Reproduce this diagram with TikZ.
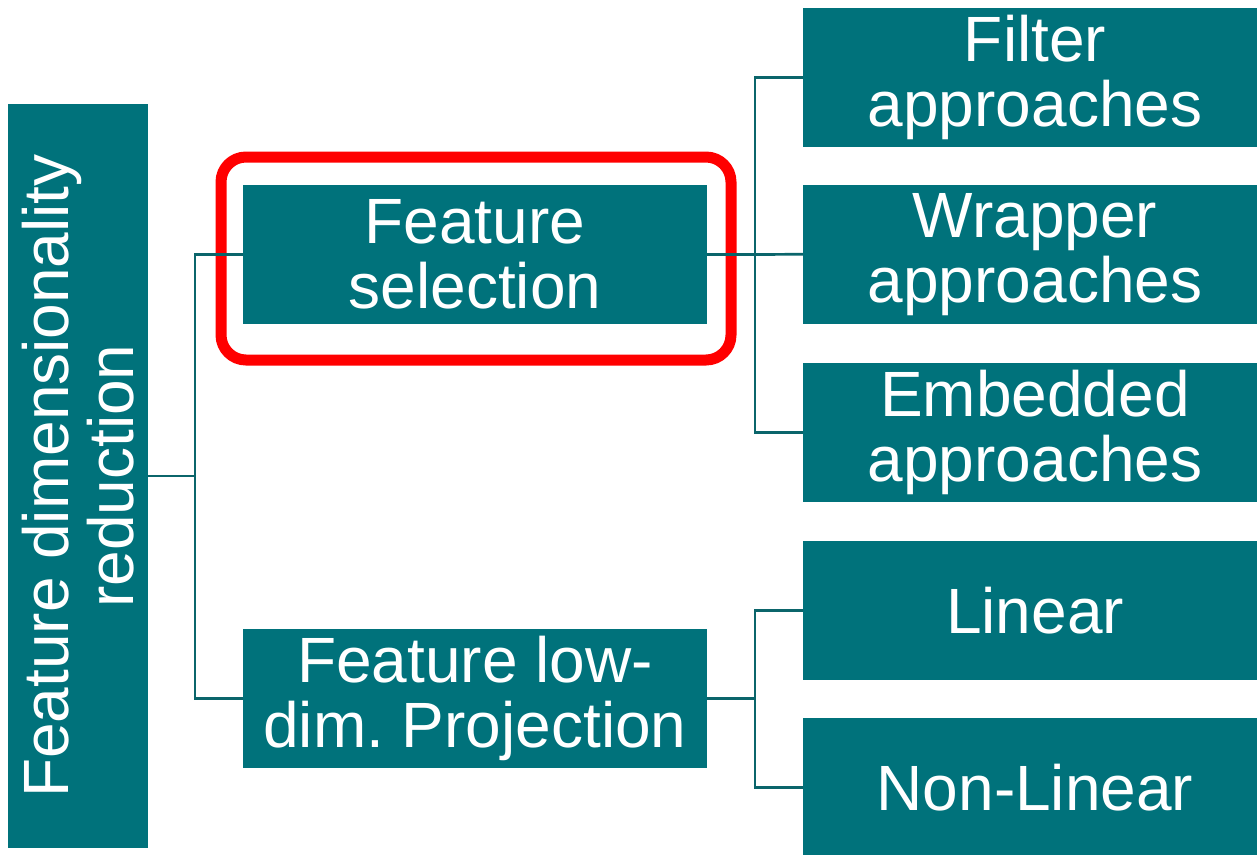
\documentclass[tikz,border=0pt]{standalone}
\usepackage{fontspec}
\setmainfont{Liberation Sans}
\frenchspacing
\definecolor{boxteal}{HTML}{00727B}
\definecolor{linkteal}{HTML}{0B656B}
\definecolor{markred}{HTML}{FF0000}
\begin{document}
\begin{tikzpicture}[x=1pt,y=1pt,
  box/.style={fill=boxteal, text=white, inner sep=0pt, align=center,
    font=\fontsize{64}{65}\selectfont},
  midbox/.style={box, minimum width=464pt, minimum height=139pt},
  leafbox/.style={box, minimum width=464pt, minimum height=138.5pt},
  link/.style={draw=linkteal, line width=2.7pt}]
\useasboundingbox (0,0) rectangle (1257,-854);

% root (rotated)
\node[box, rotate=90, minimum width=744pt, minimum height=140pt] (frd) at (78,-476)
  {Feature dimensionality\\reduction};

% second level
\node[midbox] (fs) at (475,-254.5) {Feature\\selection};
\node[midbox] (pr) at (475,-698.5) {Feature low-\\dim. Projection};

% leaves
\node[leafbox] (fil) at (1035,-77.25)  {Filter\\approaches};
\node[leafbox] (wra) at (1035,-254.25) {Wrapper\\approaches};
\node[leafbox] (emb) at (1035,-432.25) {Embedded\\approaches};
\node[leafbox] (lin) at (1035,-610.25) {Linear};
\node[leafbox] (non) at (1035,-787.25) {Non-Linear};

% highlight frame
\draw[markred, line width=11pt, rounded corners=25pt] (221,-157) rectangle (731,-360);

% junctions
\coordinate (jA) at (195,-476);
\coordinate (jB) at (755,-254.5);
\coordinate (jC) at (755,-698.5);

% connectors
\draw[link] (frd.south) -- (jA);
\draw[link] (fs.west) -| (jA) |- (pr.west);
\draw[link] (fs.east) -- (jB);
\draw[link] (fil.west) -| (jB) |- (emb.west);
\draw[link] (jB) -- (wra.west);
\draw[link] (pr.east) -- (jC);
\draw[link] (lin.west) -| (jC) |- (non.west);
\end{tikzpicture}
\end{document}
